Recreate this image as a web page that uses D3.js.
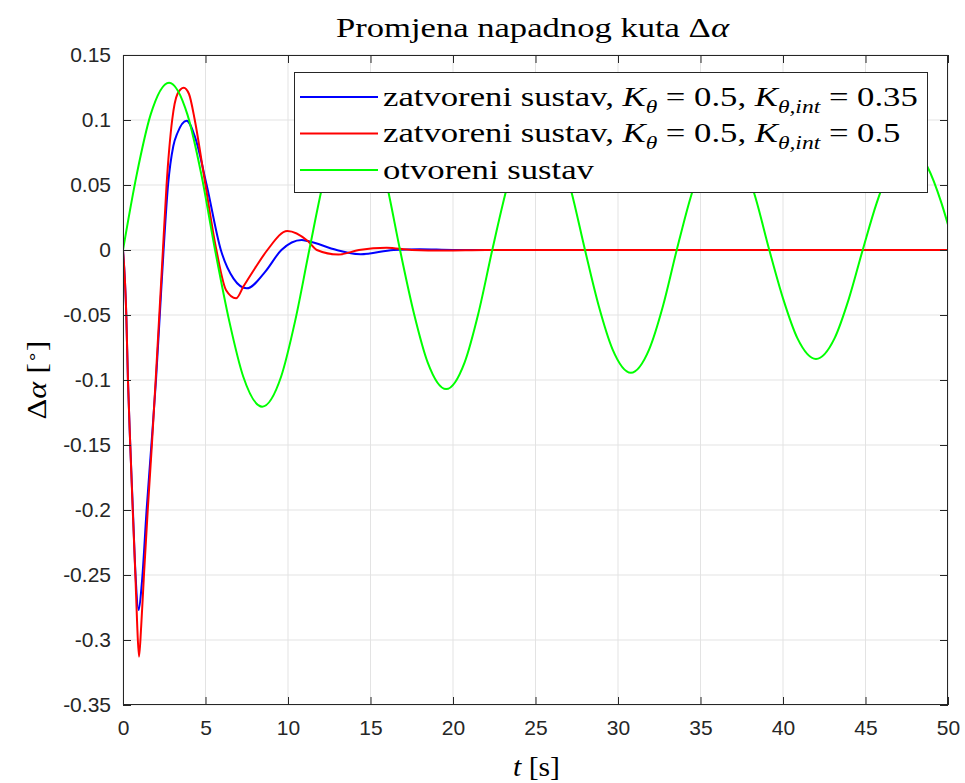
<!DOCTYPE html>
<html>
<head>
<meta charset="utf-8">
<script src="https://cdn.jsdelivr.net/npm/d3@7"></script>
<style>
  html, body { margin: 0; padding: 0; background: #ffffff; }
  svg { display: block; }
  .tick text { font-family: "Liberation Sans", Arial, Helvetica, sans-serif; font-size: 21px; fill: #262626; }
  .tex { font-family: "Liberation Serif", "Times New Roman", serif; fill: #000000; }
</style>
</head>
<body>
<svg id="chart" width="965" height="783"></svg>
<script>
// Time axis ticks and amplitude ticks
const xTicks = [0, 5, 10, 15, 20, 25, 30, 35, 40, 45, 50];
const yTicks = [0.15, 0.1, 0.05, 0, -0.05, -0.1, -0.15, -0.2, -0.25, -0.3, -0.35];
const yTickLabels = ["0.15", "0.1", "0.05", "0", "-0.05", "-0.1", "-0.15", "-0.2", "-0.25", "-0.3", "-0.35"];

// Closed loop, K_theta = 0.5, K_theta,int = 0.35
const blueT = [0, 0.2, 0.3, 0.44, 0.6, 0.76, 0.95, 1.15, 1.43, 1.72, 2.0, 2.23, 2.46, 2.73, 3.05, 3.3, 3.86, 4.36, 5.07, 5.93, 6.7, 7.5, 8.6, 9.6, 10.83, 11.2, 12.95, 14.4, 16.4, 18.0, 20.0, 50];
const blueV = [0, -0.05, -0.1, -0.15, -0.2, -0.25, -0.277, -0.255, -0.2, -0.15, -0.1, -0.05, 0, 0.05, 0.08, 0.09, 0.0995, 0.087, 0.05, 0, -0.022, -0.0295, -0.017, 0, 0.0077, 0.0069, 0, -0.0033, 0, 0.0006, 0, 0];

// Closed loop, K_theta = 0.5, K_theta,int = 0.5
const redT = [0, 0.2, 0.3, 0.44, 0.59, 0.75, 0.85, 0.97, 1.1, 1.27, 1.5, 1.75, 1.98, 2.2, 2.42, 2.64, 2.98, 3.3, 3.68, 4.0, 4.35, 4.9, 5.66, 6.25, 6.85, 7.3, 8.0, 8.75, 9.96, 11.2, 11.75, 13.05, 14.3, 15.98, 17.5, 19.5, 22.0, 50];
const redV = [0, -0.05, -0.1, -0.15, -0.2, -0.25, -0.285, -0.3128, -0.29, -0.25, -0.2, -0.15, -0.1, -0.05, 0, 0.05, 0.1, 0.12, 0.1248, 0.12, 0.1, 0.0577, 0, -0.031, -0.0372, -0.028, -0.014, 0, 0.0146, 0.0069, 0, -0.0035, 0, 0.0018, 0, -0.0004, 0, 0];

// Open loop
const greenT = [0, 0.837, 1.674, 2.79, 3.906, 4.743, 5.58, 6.44, 7.29, 8.435, 9.58, 10.43, 11.29, 12.12, 12.94, 14.04, 15.14, 15.97, 16.79, 17.63, 18.47, 19.585, 20.7, 21.54, 22.38, 23.22, 24.07, 25.19, 26.31, 27.16, 28.0, 28.83, 29.67, 30.78, 31.89, 32.73, 33.56, 34.4, 35.24, 36.365, 37.49, 38.33, 39.17, 40.02, 40.87, 42.0, 43.13, 43.98, 44.83, 45.67, 46.52, 47.64, 48.76, 49.61, 50];
const greenV = [0, 0.0584, 0.1041, 0.1287, 0.1041, 0.0584, 0, -0.0547, -0.0975, -0.1205, -0.0975, -0.0547, 0, 0.0513, 0.0914, 0.113, 0.0914, 0.0513, 0, -0.0486, -0.0866, -0.107, -0.0866, -0.0486, 0, 0.0456, 0.0813, 0.1005, 0.0813, 0.0456, 0, -0.0429, -0.0764, -0.0944, -0.0764, -0.0429, 0, 0.0404, 0.072, 0.089, 0.072, 0.0404, 0, -0.038, -0.0678, -0.0838, -0.0678, -0.038, 0, 0.0359, 0.0639, 0.079, 0.0639, 0.0359, 0.0195];

const series = [
  { t: blueT, v: blueV, color: "#0000ff" },
  { t: redT, v: redV, color: "#ff0000" },
  { t: greenT, v: greenV, color: "#00ff00" }
];

const svg = d3.select("#chart");
const plotLeft = 123, plotRight = 948, plotTop = 55, plotBottom = 705;
const x = d3.scaleLinear().domain([0, 50]).range([plotLeft, plotRight]);
const y = d3.scaleLinear().domain([-0.35, 0.15]).range([plotBottom, plotTop]);
const axisColor = "#262626";
const tickLen = 8;

// Stretch a text element horizontally (in its own frame) so it spans the given width,
// keeping the point ax fixed. Mimics the wider Computer Modern glyphs.
function stretchTo(sel, width, ax) {
  const w = sel.node().getBBox().width;
  const k = width / w;
  sel.attr("transform", (sel.attr("transform") || "") + ` translate(${ax},0) scale(${k},1) translate(${-ax},0)`);
  return k;
}

// grid
const grid = svg.append("g");
grid.selectAll("line.gx").data(xTicks).join("line").attr("class", "gx")
  .attr("x1", d => x(d)).attr("x2", d => x(d))
  .attr("y1", plotTop).attr("y2", plotBottom)
  .attr("stroke", "#e3e3e3").attr("stroke-width", 1);
grid.selectAll("line.gy").data(yTicks).join("line").attr("class", "gy")
  .attr("y1", d => y(d)).attr("y2", d => y(d))
  .attr("x1", plotLeft).attr("x2", plotRight)
  .attr("stroke", "#e3e3e3").attr("stroke-width", 1);

// data lines
svg.append("clipPath").attr("id", "plotclip")
  .append("rect").attr("x", plotLeft).attr("y", plotTop)
  .attr("width", plotRight - plotLeft).attr("height", plotBottom - plotTop);
const lineGen = d3.line().curve(d3.curveMonotoneX);
const lines = svg.append("g").attr("clip-path", "url(#plotclip)");
series.forEach(s => {
  lines.append("path")
    .attr("d", lineGen(s.t.map((t, i) => [x(t), y(s.v[i])])))
    .attr("fill", "none")
    .attr("stroke", s.color)
    .attr("stroke-width", 2)
    .attr("stroke-linejoin", "round");
});

// axes with inward ticks on all four sides
const xAxisB = d3.axisBottom(x).tickValues(xTicks).tickSize(-tickLen).tickPadding(15).tickFormat(d3.format("d"));
const xAxisT = d3.axisTop(x).tickValues(xTicks).tickSize(-tickLen).tickFormat("");
const yAxisL = d3.axisLeft(y).tickValues(yTicks).tickSize(-tickLen).tickPadding(12).tickFormat((d, i) => yTickLabels[i]);
const yAxisR = d3.axisRight(y).tickValues(yTicks).tickSize(-tickLen).tickFormat("");

function styleAxis(g) {
  g.select(".domain").remove();
  g.selectAll(".tick line").attr("stroke", axisColor).attr("stroke-width", 1);
}
svg.append("g").attr("transform", `translate(0,${plotBottom})`).call(xAxisB).call(styleAxis);
svg.append("g").attr("transform", `translate(0,${plotTop})`).call(xAxisT).call(styleAxis);
svg.append("g").attr("transform", `translate(${plotLeft},0)`).call(yAxisL).call(styleAxis);
svg.append("g").attr("transform", `translate(${plotRight},0)`).call(yAxisR).call(styleAxis);
svg.selectAll("g[font-family]").attr("font-family", null).attr("font-size", null);

svg.append("rect")
  .attr("x", plotLeft + 0.5).attr("y", plotTop + 0.5)
  .attr("width", plotRight - plotLeft - 1).attr("height", plotBottom - plotTop - 1)
  .attr("fill", "none").attr("stroke", axisColor).attr("stroke-width", 1);

// title
const titleX = 532.5;
const title = svg.append("text").attr("class", "tex")
  .attr("x", titleX).attr("y", 37)
  .attr("text-anchor", "middle").attr("font-size", 28);
title.append("tspan").text("Promjena napadnog kuta Δ");
title.append("tspan").attr("font-style", "italic").text("α");
stretchTo(title, 395, titleX);

// x label
const xlX = 536.5;
const xl = svg.append("text").attr("class", "tex")
  .attr("x", xlX).attr("y", 776)
  .attr("text-anchor", "middle").attr("font-size", 28);
xl.append("tspan").attr("font-style", "italic").text("t");
xl.append("tspan").text(" [s]");
stretchTo(xl, 47, xlX);

// y label (rotated; stretched along its own baseline)
const yl = svg.append("text").attr("class", "tex")
  .attr("transform", `translate(46,380) rotate(-90)`)
  .attr("text-anchor", "middle").attr("font-size", 28);
yl.append("tspan").text("Δ");
yl.append("tspan").attr("font-style", "italic").text("α");
yl.append("tspan").text(" [");
yl.append("tspan").attr("font-size", 17).attr("dy", -9).text("∘");
yl.append("tspan").attr("dy", 9).text("]");
stretchTo(yl, 80, 0);

// legend
const legend = svg.append("g");
legend.append("rect")
  .attr("x", 294.5).attr("y", 72.5).attr("width", 633).attr("height", 120)
  .attr("fill", "#ffffff").attr("stroke", axisColor).attr("stroke-width", 1);

const legendRows = [
  { color: "#0000ff", parts: [["zatvoreni sustav, ", null], ["K", "i"], ["θ", "si"], [" = 0.5, ", null], ["K", "i"], ["θ,int", "si"], [" = 0.35", null]] },
  { color: "#ff0000", parts: [["zatvoreni sustav, ", null], ["K", "i"], ["θ", "si"], [" = 0.5, ", null], ["K", "i"], ["θ,int", "si"], [" = 0.5", null]] },
  { color: "#00ff00", parts: [["otvoreni sustav", null]] }
];
const legendTextX = 383;
let legendK = null;
legendRows.forEach((row, i) => {
  const cy = 97 + i * 36.5;
  legend.append("line")
    .attr("x1", 300).attr("x2", 378).attr("y1", cy).attr("y2", cy)
    .attr("stroke", row.color).attr("stroke-width", 2);
  const txt = legend.append("text").attr("class", "tex")
    .attr("x", legendTextX).attr("y", cy + 9).attr("font-size", 28);
  let shifted = false;
  row.parts.forEach(([s, kind]) => {
    const ts = txt.append("tspan").text(s);
    if (kind === "i") ts.attr("font-style", "italic");
    if (kind === "si") {
      ts.attr("font-style", "italic").attr("font-size", 19).attr("dy", 7);
      shifted = true;
    } else if (shifted) {
      ts.attr("dy", -7);
      shifted = false;
    }
  });
  if (legendK === null) {
    legendK = stretchTo(txt, 535, legendTextX);
  } else {
    txt.attr("transform", `translate(${legendTextX},0) scale(${legendK},1) translate(${-legendTextX},0)`);
  }
});
</script>
</body>
</html>
